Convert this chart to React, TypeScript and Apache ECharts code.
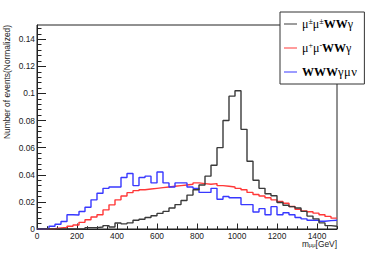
import React, { useEffect, useRef } from 'react';
import * as echarts from 'echarts';

// ---- data (normalized events per 30 GeV bin, 0..1500 GeV) ----
const BIN_WIDTH = 30;
const X_MIN = 0;
const X_MAX = 1500;
const Y_MIN = 0;
const Y_MAX = 0.1505;
const X_TICK_STEP = 200;
const Y_TICK_STEP = 0.02;

const seriesNames = ['μ±μ±WWγ', 'μ+μ-WWγ', 'WWWγμν'];
const seriesColors = ['#3a3a3a', '#ff3838', '#3838ff'];

const sameSignValues = [
  0, 0, 0, 0, 0, 0, 0, 0.0003, 0.001, 0.001,
  0.0015, 0.0025, 0.0015, 0.0044, 0.0038, 0.0045, 0.0065, 0.0072, 0.0085, 0.0098,
  0.0115, 0.013, 0.0155, 0.018, 0.021, 0.025, 0.029, 0.0325, 0.039, 0.047,
  0.06, 0.08, 0.098, 0.102, 0.0735, 0.05, 0.036, 0.03, 0.026, 0.0245,
  0.0195, 0.0175, 0.0165, 0.0155, 0.013, 0.0095, 0.0075, 0.0045, 0.0025, 0.002,
];

const oppSignValues = [
  0, 0, 0.0002, 0.0007, 0.0012, 0.002, 0.003, 0.0049, 0.0068, 0.0088,
  0.0105, 0.0141, 0.0178, 0.0215, 0.0244, 0.0268, 0.0283, 0.029, 0.0295, 0.03,
  0.0305, 0.031, 0.0315, 0.032, 0.0325, 0.033, 0.034, 0.0335, 0.033, 0.0335,
  0.032, 0.0315, 0.031, 0.03, 0.029, 0.027, 0.0255, 0.0243, 0.023, 0.0215,
  0.0203, 0.019, 0.0166, 0.0146, 0.0134, 0.0127, 0.0117, 0.0105, 0.0093, 0.008,
];

const wwwValues = [
  0, 0.0002, 0.002, 0.0035, 0.0055, 0.0105, 0.0103, 0.0129, 0.016, 0.0215,
  0.0264, 0.03, 0.031, 0.031, 0.038, 0.041, 0.032, 0.038, 0.039, 0.034,
  0.042, 0.034, 0.031, 0.034, 0.034, 0.031, 0.03, 0.027, 0.027, 0.03,
  0.022, 0.024, 0.023, 0.023, 0.018, 0.018, 0.0125, 0.015, 0.0105, 0.0165,
  0.0105, 0.012, 0.0105, 0.0085, 0.0075, 0.0065, 0.0065, 0.0057, 0.0062, 0.0065,
];

const legendLabels: Record<string, string> = {
  'μ±μ±WWγ': '{n|μ}{sup|±}{n|μ}{sup|±}{b|WW}{n|γ}',
  'μ+μ-WWγ': '{n|μ}{sup|+}{n|μ}{sup|-}{b|WW}{n|γ}',
  'WWWγμν': '{b|WWW}{g|γ}{g|μ}{g|ν}',
};

function toSteps(values: number[]): number[][] {
  const pts = values.map((v, i) => [X_MIN + i * BIN_WIDTH, v]);
  pts.push([X_MAX, values[values.length - 1]]);
  return pts;
}

function minorTicks(min: number, max: number, major: number, parts: number): number[] {
  const out: number[] = [];
  const step = major / parts;
  const n = Math.floor((max - min) / step + 1e-9);
  for (let i = 1; i <= n; i++) {
    if (i % parts === 0) continue;
    out.push(+(min + i * step).toFixed(6));
  }
  return out;
}

const AXIS_COLOR = '#222';
const LABEL_FONT = 'Liberation Sans, Arial, sans-serif';

export default function App() {
  const ref = useRef<HTMLDivElement>(null);

  useEffect(() => {
    if (!ref.current) return;
    const chart = echarts.init(ref.current, undefined, { renderer: 'svg' });
    const allValues = [sameSignValues, oppSignValues, wwwValues];

    const option: any = {
      animation: false,
      backgroundColor: '#fff',
      grid: {
        left: 37,
        top: 25,
        width: 300,
        height: 204,
        show: true,
        borderColor: AXIS_COLOR,
        borderWidth: 1,
        backgroundColor: 'transparent',
      },
      xAxis: [
        {
          type: 'value',
          min: X_MIN,
          max: X_MAX,
          interval: X_TICK_STEP,
          axisLine: { show: true, lineStyle: { color: AXIS_COLOR, width: 1 } },
          axisTick: { show: true, inside: true, length: 5.5, lineStyle: { color: AXIS_COLOR } },
          axisLabel: {
            showMaxLabel: false,
            fontSize: 8.4,
            lineHeight: 8,
            fontFamily: LABEL_FONT,
            color: AXIS_COLOR,
            margin: 2.5,
            formatter: (v: number) => String(Math.round(v)),
          },
          splitLine: { show: false },
        },
        {
          type: 'value',
          position: 'bottom',
          min: X_MIN,
          max: X_MAX,
          axisLine: { show: false },
          axisLabel: { show: false },
          splitLine: { show: false },
          axisTick: {
            show: true,
            inside: true,
            length: 2.8,
            lineStyle: { color: AXIS_COLOR },
            customValues: minorTicks(X_MIN, X_MAX, X_TICK_STEP, 4),
          },
        },
      ],
      yAxis: [
        {
          type: 'value',
          min: Y_MIN,
          max: Y_MAX,
          interval: Y_TICK_STEP,
          axisLine: { show: true, lineStyle: { color: AXIS_COLOR, width: 1 } },
          axisTick: { show: true, inside: true, length: 9, lineStyle: { color: AXIS_COLOR } },
          axisLabel: {
            showMaxLabel: false,
            fontSize: 8.4,
            fontFamily: LABEL_FONT,
            color: AXIS_COLOR,
            margin: 2,
            formatter: (v: number) => String(+v.toFixed(4)),
          },
          splitLine: { show: false },
        },
        {
          type: 'value',
          position: 'left',
          min: Y_MIN,
          max: Y_MAX,
          axisLine: { show: false },
          axisLabel: { show: false },
          splitLine: { show: false },
          axisTick: {
            show: true,
            inside: true,
            length: 4.5,
            lineStyle: { color: AXIS_COLOR },
            customValues: minorTicks(Y_MIN, Y_MAX, Y_TICK_STEP, 5),
          },
        },
      ],
      legend: {
        show: true,
        orient: 'vertical',
        left: 280,
        top: 12,
        padding: [5, 7, 5, 4],
        itemGap: 10,
        itemWidth: 13,
        itemHeight: 1,
        icon: 'rect',
        selectedMode: false,
        backgroundColor: '#fff',
        borderColor: '#333',
        borderWidth: 1,
        borderRadius: 0,
        data: seriesNames,
        formatter: (name: string) => legendLabels[name] || name,
        textStyle: {
          fontFamily: 'Liberation Serif, Times New Roman, serif',
          fontSize: 12,
          lineHeight: 14,
          color: '#000',
          rich: {
            n: { fontFamily: 'Liberation Serif', fontSize: 12, lineHeight: 14, color: '#000' },
            g: { fontFamily: 'Liberation Serif', fontSize: 12.5, lineHeight: 14, color: '#000', padding: [0, 0.5, 0, 0] },
            b: { fontFamily: 'Liberation Serif', fontSize: 12, lineHeight: 14, fontWeight: 'bold', color: '#000' },
            sup: { fontFamily: 'Liberation Serif', fontSize: 8, lineHeight: 9.6, verticalAlign: 'top', color: '#000' },
          },
        },
      },
      graphic: [
        {
          type: 'text',
          x: 6.5,
          y: 25,
          rotation: Math.PI / 2,
          style: {
            text: 'Number of events(Normalized)',
            fontSize: 8.4,
            fontFamily: LABEL_FONT,
            fill: AXIS_COLOR,
            align: 'right',
            verticalAlign: 'middle',
          },
        },
        {
          type: 'text',
          x: 337,
          y: 244.2,
          style: {
            text: '{a|m}{s|μμ}{a|[GeV]}',
            align: 'right',
            verticalAlign: 'middle',
            fill: AXIS_COLOR,
            rich: {
              a: { fontSize: 8.4, fontFamily: LABEL_FONT, lineHeight: 8, fill: AXIS_COLOR },
              s: { fontSize: 5.8, fontFamily: LABEL_FONT, lineHeight: 5, verticalAlign: 'bottom', fill: AXIS_COLOR },
            },
          },
        },
      ],
      series: [1, 2, 0].map((idx) => ({
        name: seriesNames[idx],
        type: 'line',
        step: 'end',
        showSymbol: false,
        symbol: 'none',
        xAxisIndex: 0,
        yAxisIndex: 0,
        color: seriesColors[idx],
        lineStyle: { color: seriesColors[idx], width: 1.4 },
        data: toSteps(allValues[idx]),
        z: idx === 0 ? 4 : 3,
      })),
    };

    chart.setOption(option);
    return () => chart.dispose();
  }, []);

  return (
    <div
      ref={ref}
      style={{ position: 'fixed', left: 0, top: 0, width: 374, height: 255, background: '#fff' }}
    />
  );
}
